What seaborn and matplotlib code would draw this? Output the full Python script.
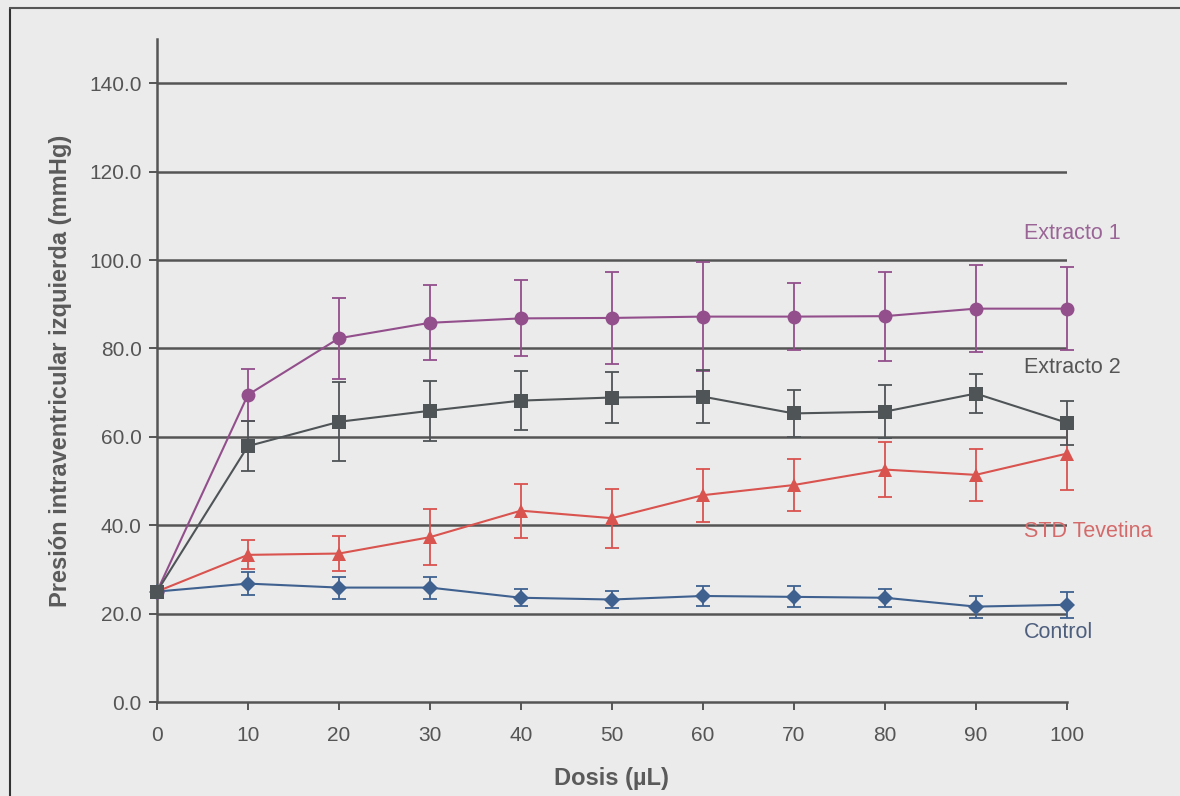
import matplotlib
matplotlib.use("Agg")
import matplotlib.pyplot as plt
from matplotlib.lines import Line2D
import seaborn as sns
import pandas as pd
import numpy as np

# ---- data ----
dosis = [0, 10, 20, 30, 40, 50, 60, 70, 80, 90, 100]
series_names = ["Control", "STD Tevetina", "Extracto 1", "Extracto 2"]
control = [25.0, 26.8, 25.9, 25.9, 23.6, 23.2, 24.0, 23.8, 23.6, 21.6, 22.0]
control_err = [0.0, 2.6, 2.5, 2.5, 1.9, 2.0, 2.2, 2.4, 2.0, 2.5, 3.0]
std_tevetina = [25.0, 33.3, 33.6, 37.3, 43.3, 41.6, 46.8, 49.1, 52.6, 51.4, 56.2]
std_tevetina_err = [0.0, 3.3, 4.0, 6.3, 6.1, 6.7, 6.0, 5.8, 6.2, 5.9, 8.2]
extracto1 = [25.0, 69.5, 82.3, 85.8, 86.8, 86.9, 87.2, 87.2, 87.3, 89.0, 89.0]
extracto1_err = [0.0, 5.9, 9.2, 8.5, 8.6, 10.5, 12.4, 7.5, 10.1, 9.8, 9.4]
extracto2 = [25.0, 57.9, 63.4, 65.9, 68.2, 68.9, 69.1, 65.3, 65.7, 69.8, 63.2]
extracto2_err = [0.0, 5.7, 8.9, 6.8, 6.7, 5.8, 6.0, 5.3, 6.0, 4.5, 5.0]
y_ticks = [0, 20, 40, 60, 80, 100, 120, 140]
x_ticks = [0, 10, 20, 30, 40, 50, 60, 70, 80, 90, 100]
label_positions = {"Extracto 1": 106.0, "Extracto 2": 75.6, "STD Tevetina": 38.5, "Control": 15.8}

values = {"Control": control, "STD Tevetina": std_tevetina,
          "Extracto 1": extracto1, "Extracto 2": extracto2}
errors = {"Control": control_err, "STD Tevetina": std_tevetina_err,
          "Extracto 1": extracto1_err, "Extracto 2": extracto2_err}

colors = {"Control": "#3f6190", "STD Tevetina": "#d9534f",
          "Extracto 1": "#924f8c", "Extracto 2": "#4f5457"}
text_colors = {"Control": "#4e5f7e", "STD Tevetina": "#d46a6a",
               "Extracto 1": "#9a6596", "Extracto 2": "#555555"}
markers = {"Control": "D", "STD Tevetina": "^", "Extracto 1": "o", "Extracto 2": "s"}
msizes = {"Control": 8, "STD Tevetina": 10, "Extracto 1": 10, "Extracto 2": 10}

rows = []
for name in series_names:
    for d, v, e in zip(dosis, values[name], errors[name]):
        rows.append({"Dosis": d, "Presion": v, "err": e, "Serie": name})
df = pd.DataFrame(rows)

sns.set_theme(style="white")
plt.rcParams["font.family"] = ["Liberation Sans", "DejaVu Sans"]

bg = "#ebebeb"
fig = plt.figure(figsize=(11.8, 7.96), dpi=100, facecolor=bg)
ax = fig.add_axes([0.133, 0.118, 0.771, 0.833])
ax.set_facecolor(bg)

grid_c = "#555555"
for yt in y_ticks[1:]:
    ax.axhline(yt, color=grid_c, lw=1.8, zorder=1)

for name in series_names:
    sub = df[df["Serie"] == name]
    eb = ax.errorbar(sub["Dosis"], sub["Presion"], yerr=sub["err"], fmt="none",
                     ecolor=colors[name], elinewidth=1.3, capsize=5, capthick=1.3, zorder=3)
    for art in eb.lines[1] + eb.lines[2]:
        art.set_clip_on(False)
    n_before = len(ax.lines)
    sns.lineplot(data=sub, x="Dosis", y="Presion", ax=ax, color=colors[name],
                 marker=markers[name], markersize=msizes[name], markeredgewidth=0,
                 linewidth=1.5, legend=False, zorder=4, errorbar=None)
    for ln in ax.lines[n_before:]:
        ln.set_clip_on(False)

for name in series_names:
    ax.text(95.3, label_positions[name], name, color=text_colors[name],
            fontsize=15.5, va="center", ha="left", clip_on=False)

ax.set_xlim(0, 100)
ax.set_ylim(0, 150)
ax.set_xticks(x_ticks)
ax.set_xticklabels([str(t) for t in x_ticks])
ax.set_yticks(y_ticks)
ax.set_yticklabels([f"{t:.1f}" for t in y_ticks])

for s in ["top", "right"]:
    ax.spines[s].set_visible(False)
for s in ["left", "bottom"]:
    ax.spines[s].set_color(grid_c)
    ax.spines[s].set_linewidth(1.8)

ax.tick_params(axis="both", which="major", direction="out", length=6, width=1.4,
               color=grid_c, labelsize=15, labelcolor="#555555")
ax.tick_params(axis="y", pad=5)
ax.tick_params(axis="x", pad=11)
ax.tick_params(left=True, bottom=True)

ax.set_xlabel("Dosis (\u00b5L)", fontsize=17, fontweight="bold", color="#5a5a5a", labelpad=16)
ax.set_ylabel("Presión intraventricular izquierda (mmHg)", fontsize=17,
              fontweight="bold", color="#5a5a5a", labelpad=12)

# outer frame (left and top edges as in reference)
fig.add_artist(Line2D([0.0085, 0.0085], [0.0, 0.99], transform=fig.transFigure,
                      color="#333333", lw=1.5))
fig.add_artist(Line2D([0.0085, 1.0], [0.99, 0.99], transform=fig.transFigure,
                      color="#555555", lw=1.5))

fig.savefig("out.png", dpi=100, facecolor=bg)
